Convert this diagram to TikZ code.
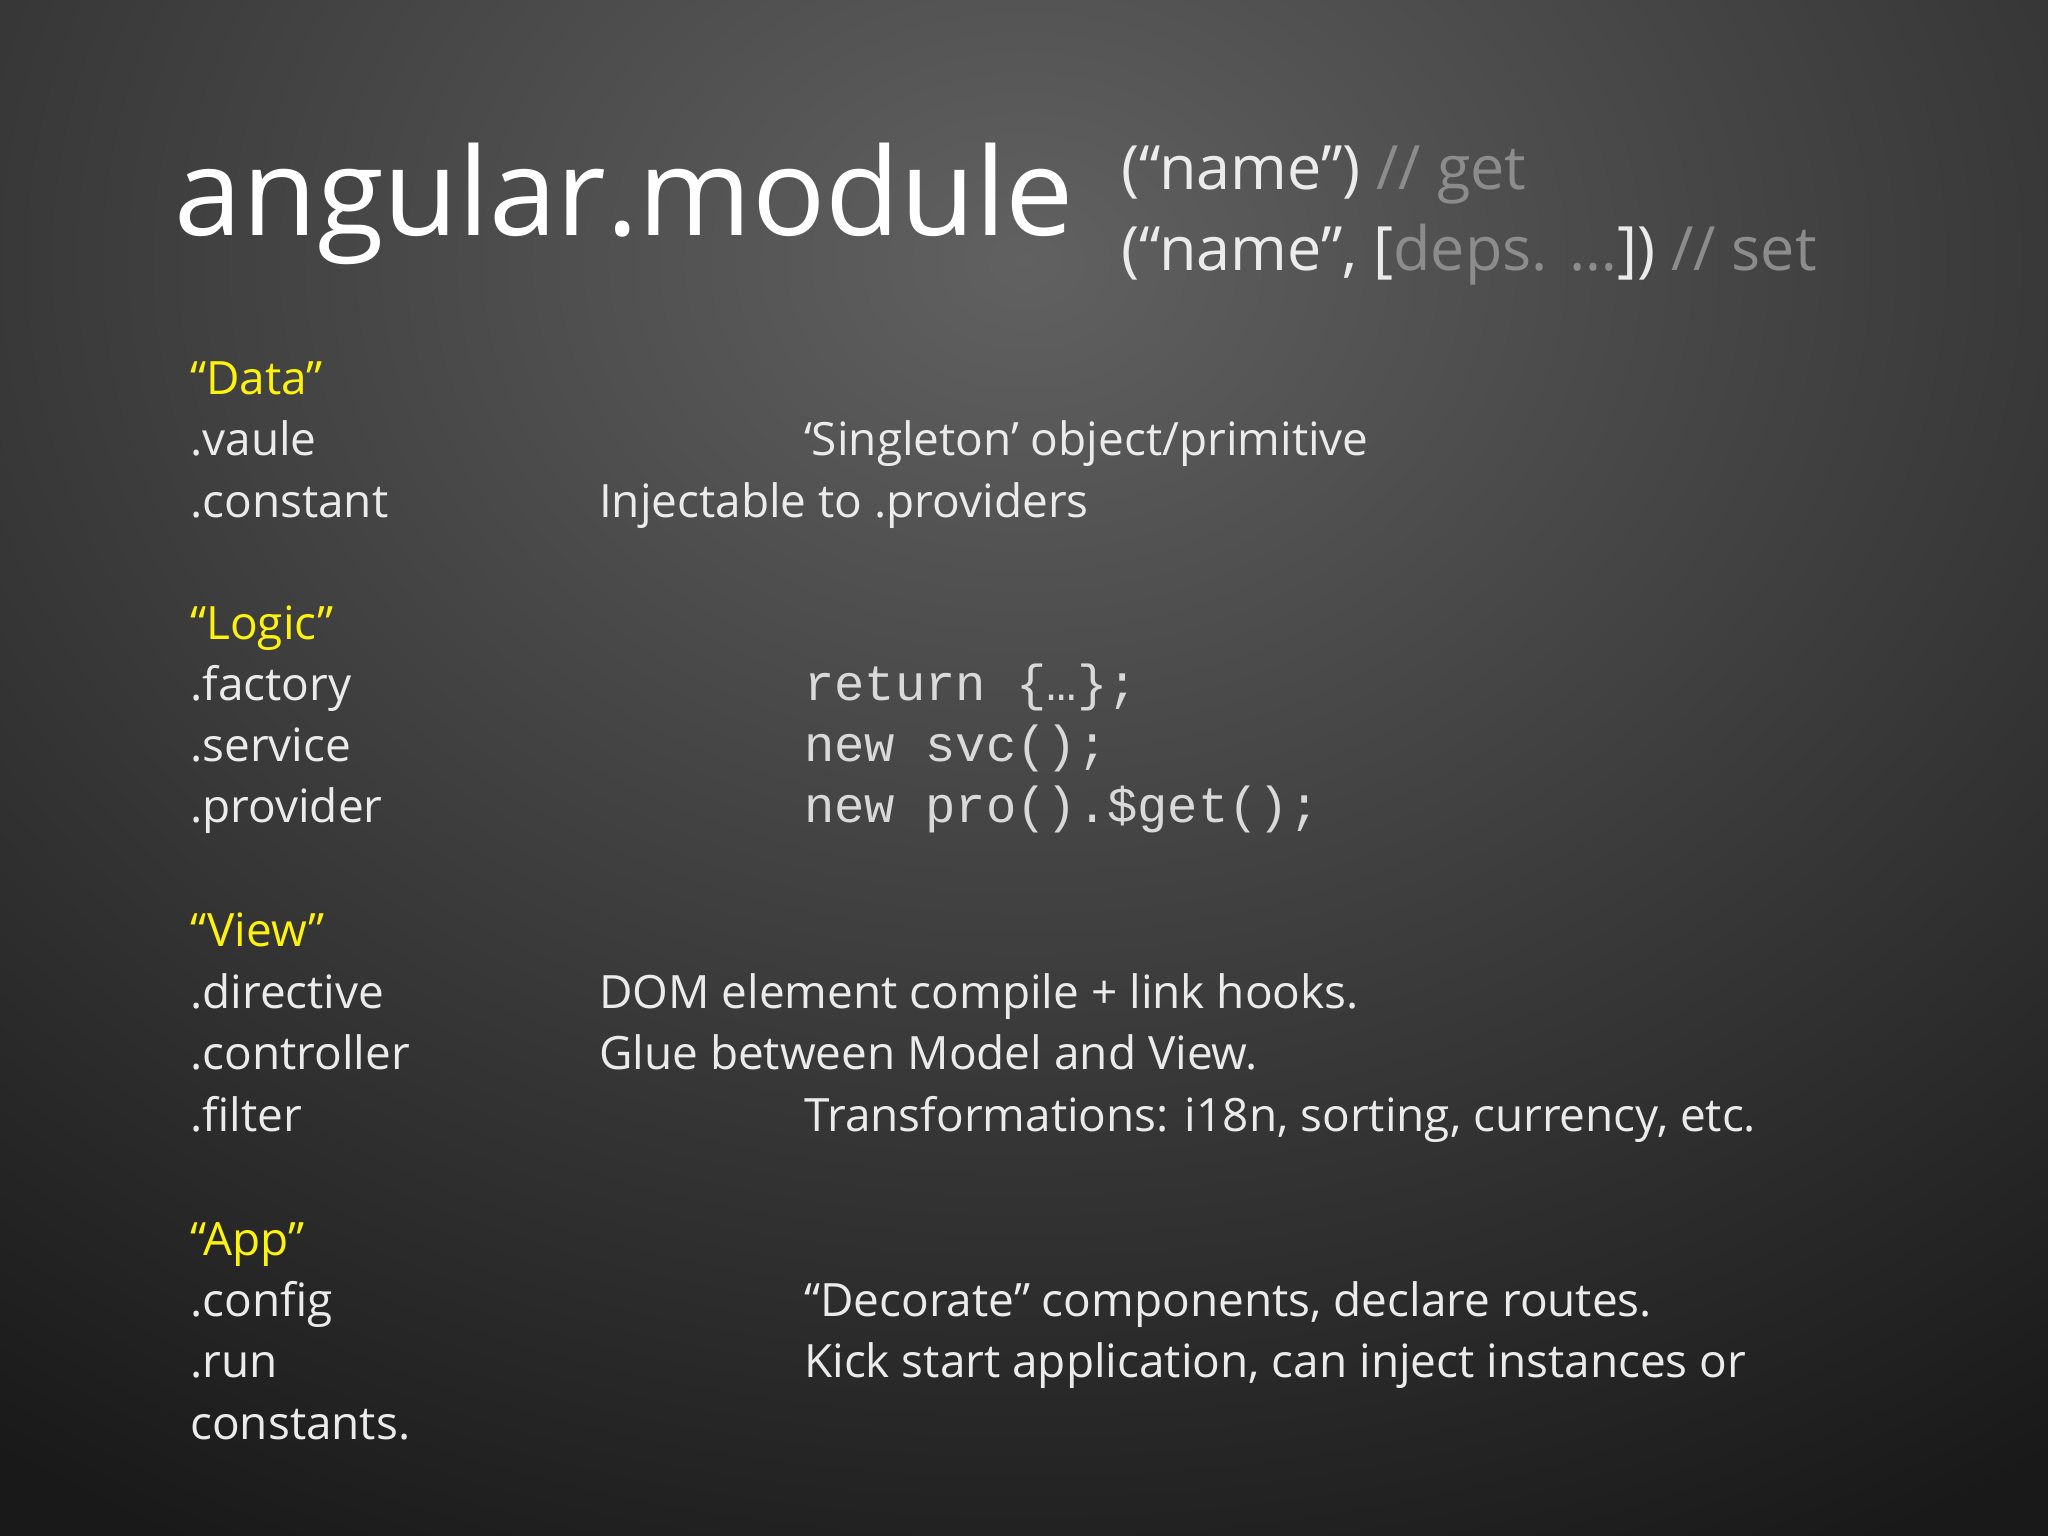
\documentclass[tikz,border=0pt]{standalone}
\usepackage{fontspec}
\setmainfont{Open Sans}
\newfontfamily\codefont{Liberation Mono}
\begin{document}
\begin{tikzpicture}[x=0.01cm,y=-0.01cm,
  txt/.style={anchor=base west,inner sep=0pt,text=white!92!black,font=\fontsize{10pt}{12pt}\selectfont},
  hd/.style={txt,text=yellow!95!white},
  code/.style={anchor=base west,inner sep=0pt,text=white!85!black,font=\codefont\fontsize{11pt}{12pt}\selectfont}]
\useasboundingbox (0,0) rectangle (1568,1176);
\clip (0,0) rectangle (1568,1176);
\shade[inner color=black!62,outer color=black!90] (-600,-900) rectangle (2168,1300);
\node[txt,font=\fontsize{26.5pt}{30pt}\selectfont,text=white] (title) at (133,180) {angular.module};
\node[txt,font=\fontsize{13.3pt}{16pt}\selectfont] (get) at (858,145) {(“name”) \textcolor{white!55!black}{// get}};
\node[txt,font=\fontsize{13.3pt}{16pt}\selectfont] (set) at (858,207) {(“name”, [\textcolor{white!55!black}{deps. …}]) \textcolor{white!55!black}{// set}};
\node[hd] (h1) at (145,302) {“Data”};
\node[txt] (a1) at (145,349) {.vaule};
\node[txt] (a2) at (145,396) {.constant};
\node[txt] (b1) at (615,349) {‘Singleton’ object/primitive};
\node[txt] (b2) at (458,396) {Injectable to .providers};
\node[hd] (h2) at (145,490) {“Logic”};
\node[txt] (c1) at (145,536) {.factory};
\node[txt] (c2) at (145,583) {.service};
\node[txt] (c3) at (145,630) {.provider};
\node[code] (d1) at (615,536) {return \{…\};};
\node[code] (d2) at (615,583) {new svc();};
\node[code] (d3) at (615,630) {new pro().\$get();};
\node[hd] (h3) at (145,725) {“View”};
\node[txt] (e1) at (145,772) {.directive};
\node[txt] (e2) at (145,819) {.controller};
\node[txt] (e3) at (145,866) {.filter};
\node[txt] (f1) at (458,772) {DOM element compile + link hooks.};
\node[txt] (f2) at (458,819) {Glue between Model and View.};
\node[txt] (f3) at (615,866) {Transformations: i18n, sorting, currency, etc.};
\node[hd] (h4) at (145,961) {“App”};
\node[txt] (g1) at (145,1008) {.config};
\node[txt] (g2) at (145,1055) {.run};
\node[txt] (g3) at (145,1102) {constants.};
\node[txt] (k1) at (615,1008) {“Decorate” components, declare routes.};
\node[txt] (k2) at (615,1055) {Kick start application, can inject instances or};
\end{tikzpicture}
\end{document}
